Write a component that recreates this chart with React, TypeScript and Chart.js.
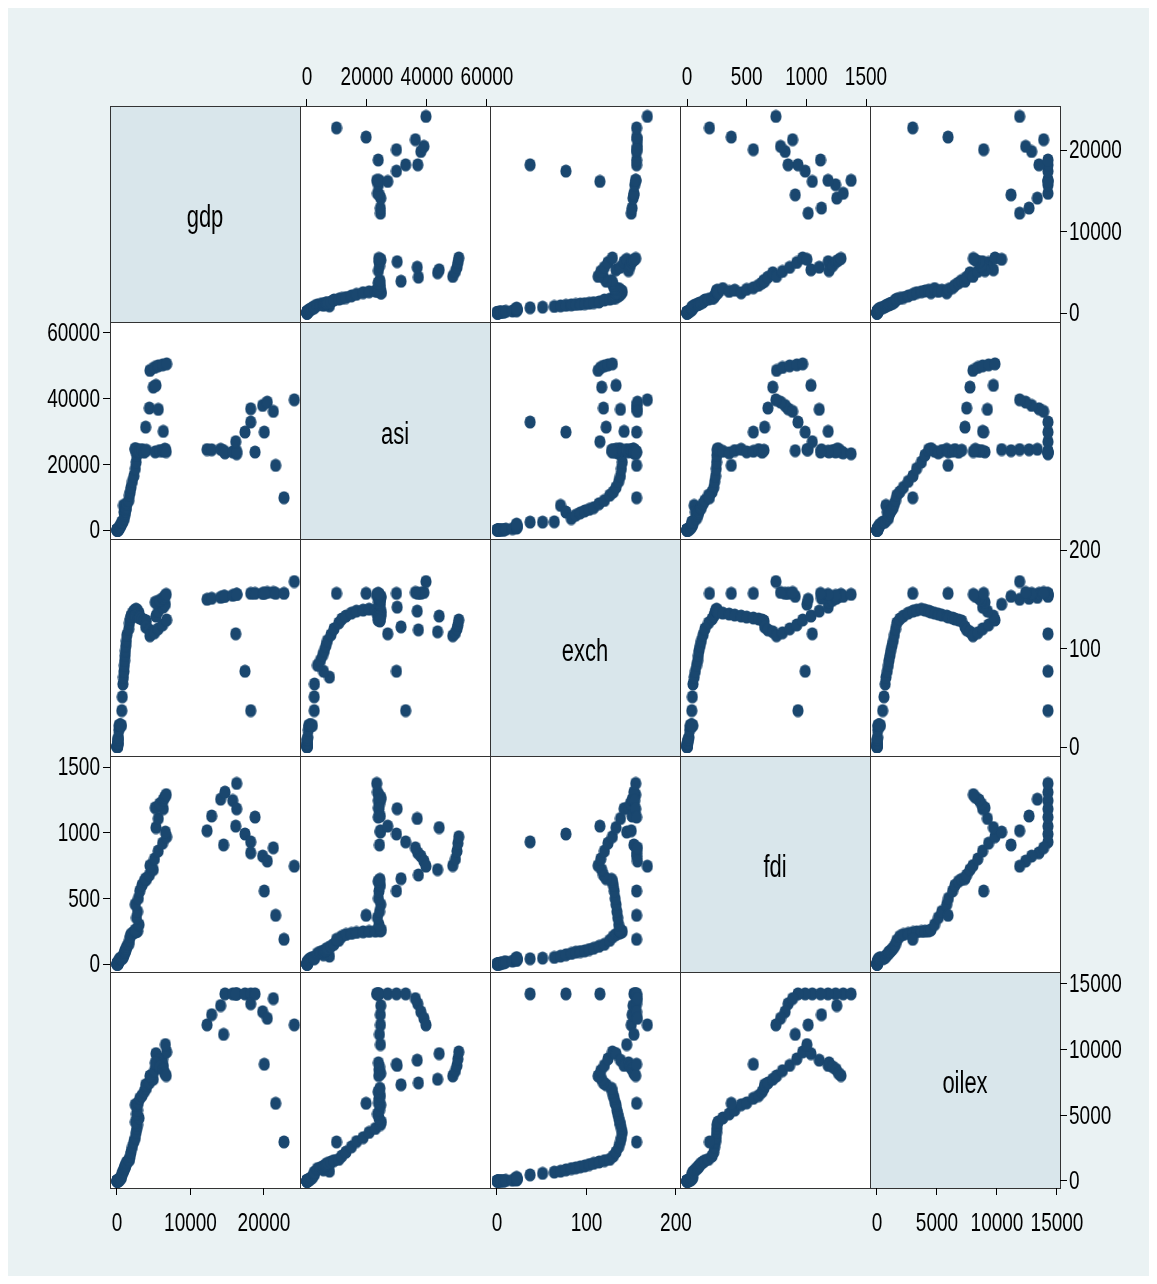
import React, { useEffect, useRef } from "react";
import { Chart, registerables } from "chart.js";

Chart.register(...registerables);

const variables = ["gdp", "asi", "exch", "fdi", "oilex"];

const gdp = [
  30, 35, 40, 45, 50, 60, 70, 80, 95, 110, 130, 160, 200, 250, 300, 350, 400, 450, 520, 600,
  650, 720, 800, 880, 950, 1000,
  1050, 1100, 1150, 1200, 1280, 1350,
  1600, 1700, 1800, 1900, 2100, 2300, 2500, 2600, 2700, 2800,
  2500, 3000, 2650, 2800, 2480, 2900, 3100, 3400, 3700, 4000,
  3900, 4400, 4940, 4490, 5100, 5600, 6200, 6760,
  5300, 5620, 6300,
  6590, 5200, 5800, 6300, 6500, 6700,
  12250, 12880, 14100, 14500, 14690, 15740, 16280, 16280, 16150, 17410, 18190, 18190, 18780, 19820, 20450, 21270, 20040, 21590, 22720, 24120,
];

const asi = [
  10, 12, 15, 18, 20, 25, 30, 40, 50, 70, 100, 150, 250, 400, 600, 800, 1000, 1200, 1500, 1800,
  2400, 2400, 2500, 7500, 5500, 3500,
  4500, 5200, 5800, 6300, 6800, 8000,
  9000, 10600, 11600, 13000, 14800, 16500, 18700, 20700, 22800, 24500,
  24800, 24000, 23500, 24200, 24600, 23800, 24000, 24500, 23700, 24300,
  31350, 37140, 43530, 48600, 49500, 50000, 50300, 50600,
  44050, 36740, 30050,
  24500, 23800, 24200, 24000, 24600, 23900,
  24500, 24450, 24600, 24160, 23500, 23800, 23230, 24000, 26900, 29830, 32880, 36930, 23740, 37950, 38960, 36130, 29830, 19690, 9840, 39660,
];

const exch = [
  0.6, 0.65, 0.7, 0.75, 0.8, 0.9, 1.8, 3.3, 4.0, 4.5, 7.4, 8.0, 9.9, 17.3, 21.9, 21.9, 21.9, 21.9, 21.9, 21.9,
  37, 51, 64, 71, 77, 83,
  88, 93, 98, 103, 108, 114,
  120, 126, 130, 133, 136, 138, 139, 140, 139, 138,
  137, 136, 135, 134, 133, 132, 131, 130, 129, 128,
  122, 119, 117, 113, 116, 120, 124, 129,
  133, 138, 142,
  145, 147, 149, 151, 153, 155,
  150, 151, 152, 153, 153, 154, 155, 155, 115, 77, 37, 156, 156, 156, 157, 157, 156, 156, 156, 168,
];

const fdi = [
  0.3, 0.4, 0.5, 0.6, 0.7, 1, 2, 3, 4, 6, 9, 12, 17, 22, 28, 32, 36, 40, 44, 48,
  40, 45, 50, 60, 70, 80,
  90, 95, 100, 110, 120, 135,
  150, 180, 210, 225, 233, 240, 245, 248, 250, 252,
  260, 300, 353, 400, 454, 500, 556, 600, 630, 645,
  650, 678, 719, 750, 800, 860, 920, 969,
  1039, 1108, 1183,
  1005, 1190, 1220, 1250, 1270, 1290,
  1015, 1127, 1255, 907, 1309, 1245, 1375, 1182, 1050, 990, 930, 847, 1119, 822, 784, 885, 556, 371, 188, 745,
];

const oilex = [
  3, 3, 3, 3, 3, 5, 8, 10, 15, 20, 25, 30, 45, 60, 90, 120, 150, 180, 230, 280,
  470, 583, 680, 750, 850, 944,
  1000, 1080, 1150, 1250, 1350, 1450,
  1550, 1650, 1900, 2200, 2600, 3000, 3300, 3700, 4000, 4300,
  4500, 4800, 5110, 5400, 5810, 5950, 6300, 6500, 6800, 7060,
  7333, 7470, 7750, 8000, 8400, 8800, 9300, 9830,
  9700, 9200, 8800,
  10390, 9000, 8700, 8500, 8200, 8030,
  11890, 12667, 13360, 11167, 14250, 14250, 14250, 14250, 14250, 14250, 14250, 13500, 14250, 12890, 12390, 13890, 8890, 5917, 2975, 11890,
];

const gdpTicks = [0, 10000, 20000];
const asiTicks = [0, 20000, 40000, 60000];
const exchTicks = [0, 100, 200];
const fdiTicks = [0, 500, 1000, 1500];
const oilexTicks = [0, 5000, 10000, 15000];

const series = [gdp, asi, exch, fdi, oilex];
const tickLists = [gdpTicks, asiTicks, exchTicks, fdiTicks, oilexTicks];

// axis ranges when a variable is used horizontally / vertically
const xLimits = [
  [-952, 24898],
  [-2333, 61000],
  [-7.8, 204.5],
  [-58.7, 1533.5],
  [-583, 15250],
];
const yLimits = [
  [-1104, 25399],
  [-2741, 63350],
  [-9.1, 211.2],
  [-60.9, 1583.8],
  [-533, 15913],
];

const COL_EDGES = [102, 292, 482, 672, 862, 1052];
const ROW_EDGES = [98, 314, 531, 748, 964, 1180];
const PAD = 80;
const MARKER = "#1a476f";
const FONT = "'Liberation Sans', Arial, sans-serif";
const STRETCH = 1.4;

const diagPlugin = {
  id: "diagLabel",
  afterDraw(chart: any, _args: any, opts: any) {
    if (!opts || !opts.text) return;
    const { left, right, top, bottom } = chart.chartArea;
    const ctx = chart.ctx;
    ctx.save();
    ctx.fillStyle = "#000";
    ctx.font = `22px ${FONT}`;
    ctx.textAlign = "center";
    ctx.textBaseline = "middle";
    ctx.translate((left + right) / 2, (top + bottom) / 2 + 5);
    ctx.scale(1, STRETCH);
    ctx.fillText(opts.text, 0, 0);
    ctx.restore();
  },
};

// draws the scale's tick labels (values from the library's scale) with the tall Stata-like glyphs
const tickLabelPlugin = {
  id: "stretchedTickLabels",
  afterDraw(chart: any) {
    const ctx = chart.ctx;
    const area = chart.chartArea;
    ctx.save();
    ctx.fillStyle = "#000";
    ctx.font = `19px ${FONT}`;
    ctx.textBaseline = "middle";
    for (const id of ["x", "y"]) {
      const s = chart.scales[id];
      if (!s || !s.options.display) continue;
      for (const t of s.ticks) {
        const p = s.getPixelForValue(t.value);
        const label = String(t.value);
        let x = 0;
        let y = 0;
        if (s.position === "top") {
          x = p;
          y = area.top - 28;
          ctx.textAlign = "center";
        } else if (s.position === "bottom") {
          x = p;
          y = area.bottom + 36;
          ctx.textAlign = "center";
        } else if (s.position === "left") {
          x = area.left - 10;
          y = p + 1;
          ctx.textAlign = "right";
        } else {
          x = area.right + 9;
          y = p + 1;
          ctx.textAlign = "left";
        }
        ctx.save();
        ctx.translate(x, y);
        ctx.scale(1, STRETCH);
        ctx.fillText(label, 0, 0);
        ctx.restore();
      }
    }
    ctx.restore();
  },
};

function axisOptions(v: number, show: boolean, position: string, limits: number[], horizontal: boolean) {
  return {
    type: "linear",
    position,
    display: show,
    min: limits[0],
    max: limits[1],
    afterBuildTicks: (s: any) => {
      s.ticks = tickLists[v].map((value) => ({ value }));
    },
    afterFit: (s: any) => {
      const size = show ? PAD : 0;
      if (horizontal) s.height = size;
      else s.width = size;
      s.paddingLeft = 0;
      s.paddingRight = 0;
      s.paddingTop = 0;
      s.paddingBottom = 0;
    },
    grid: {
      display: true,
      drawOnChartArea: false,
      drawTicks: true,
      tickLength: 7,
      color: "#000",
      lineWidth: 1,
    },
    border: { display: false },
    ticks: {
      display: false,
      autoSkip: false,
      maxRotation: 0,
      minRotation: 0,
      callback: (val: any) => String(val),
    },
  };
}

export default function App() {
  const refs = useRef<(HTMLCanvasElement | null)[]>([]);

  useEffect(() => {
    const dot = document.createElement("canvas");
    dot.width = 12;
    dot.height = 14;
    const g = dot.getContext("2d")!;
    g.fillStyle = MARKER;
    g.beginPath();
    g.ellipse(6, 7, 5.6, 6.6, 0, 0, Math.PI * 2);
    g.fill();

    const charts: Chart[] = [];
    for (let r = 0; r < 5; r++) {
      for (let c = 0; c < 5; c++) {
        const canvas = refs.current[r * 5 + c];
        if (!canvas) continue;
        const showX = (r === 0 && c % 2 === 1) || (r === 4 && c % 2 === 0);
        const xPos = r === 0 ? "top" : "bottom";
        const showY = (c === 0 && r % 2 === 1) || (c === 4 && r % 2 === 0);
        const yPos = c === 0 ? "left" : "right";
        const points =
          r === c ? [] : series[c].map((v, i) => ({ x: v, y: series[r][i] }));
        const cfg: any = {
          type: "scatter",
          data: {
            datasets: [
              {
                data: points,
                pointStyle: dot,
                pointRadius: 6,
                backgroundColor: MARKER,
                borderWidth: 0,
                clip: false,
              },
            ],
          },
          options: {
            responsive: false,
            animation: false,
            events: [],
            layout: {
              padding: {
                top: showX && xPos === "top" ? 0 : PAD,
                bottom: showX && xPos === "bottom" ? 0 : PAD,
                left: showY && yPos === "left" ? 0 : PAD,
                right: showY && yPos === "right" ? 0 : PAD,
              },
            },
            plugins: {
              legend: { display: false },
              tooltip: { enabled: false },
              diagLabel: r === c ? { text: variables[r] } : {},
            },
            scales: {
              x: axisOptions(c, showX, xPos, xLimits[c], true),
              y: axisOptions(r, showY, yPos, yLimits[r], false),
            },
          },
          plugins: [diagPlugin, tickLabelPlugin],
        };
        charts.push(new Chart(canvas, cfg));
      }
    }
    return () => charts.forEach((ch) => ch.destroy());
  }, []);

  const cells: any[] = [];
  const canvases: any[] = [];
  for (let r = 0; r < 5; r++) {
    for (let c = 0; c < 5; c++) {
      const x = COL_EDGES[c];
      const y = ROW_EDGES[r];
      const w = COL_EDGES[c + 1] - x;
      const h = ROW_EDGES[r + 1] - y;
      cells.push(
        <div
          key={`bg${r}${c}`}
          style={{
            position: "absolute",
            left: x,
            top: y,
            width: w + 1,
            height: h + 1,
            boxSizing: "border-box",
            border: "1px solid #333333",
            background: r === c ? "#d9e6eb" : "#ffffff",
          }}
        />
      );
      canvases.push(
        <canvas
          key={`cv${r}${c}`}
          ref={(el) => {
            refs.current[r * 5 + c] = el;
          }}
          width={w + 2 * PAD}
          height={h + 2 * PAD}
          style={{
            position: "absolute",
            left: x - PAD,
            top: y - PAD,
            width: w + 2 * PAD,
            height: h + 2 * PAD,
          }}
        />
      );
    }
  }

  return (
    <div
      style={{
        position: "relative",
        width: 1141,
        height: 1268,
        background: "#eaf2f3",
        overflow: "hidden",
      }}
    >
      {cells}
      {canvases}
    </div>
  );
}
